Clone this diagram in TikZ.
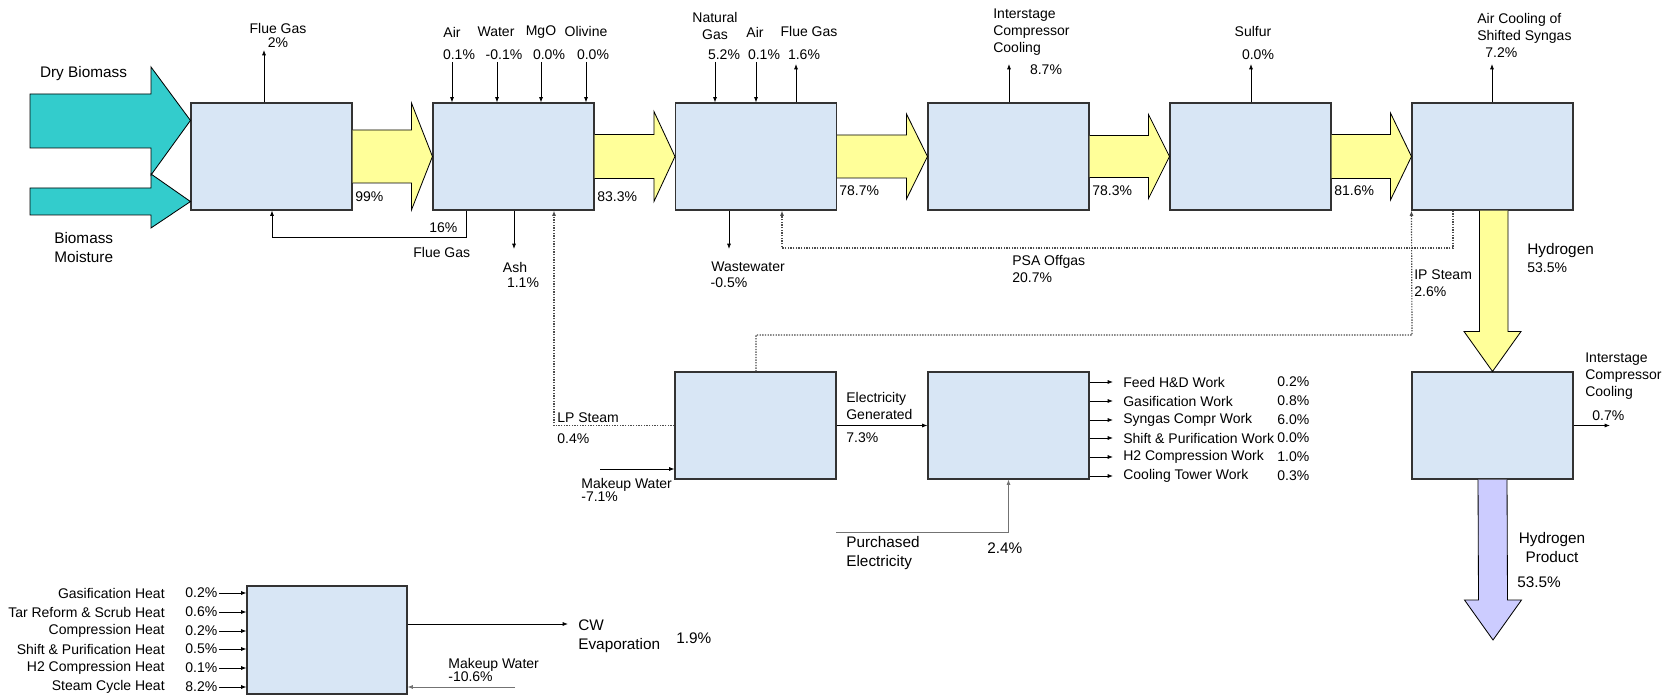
\documentclass[tikz,border=0pt]{standalone}
\usepackage{fontspec}
\setmainfont{Liberation Sans}
\usetikzlibrary{calc,arrows.meta}

\definecolor{unitblue}{RGB}{216,230,245}
\definecolor{feedteal}{RGB}{51,204,204}
\definecolor{gasyellow}{RGB}{255,255,153}
\definecolor{prodlav}{RGB}{204,204,255}

\begin{document}
\begin{tikzpicture}[x=0.6pt,y=-0.6pt,
    unit/.style={draw=black!80, line width=0.65pt, fill=unitblue, minimum width=96.6pt, minimum height=64.2pt, inner sep=0pt},
    lbl/.style={font=\fontsize{8.4}{10.2}\selectfont, inner sep=0pt},
    biglbl/.style={font=\fontsize{9.2}{11.4}\selectfont, inner sep=0pt},
    tight/.style={font=\fontsize{8.4}{8.1}\selectfont, inner sep=0pt},
    flow/.style={line width=0.45pt, -{Latex[length=3.2pt,width=2.4pt]}},
    steamline/.style={line width=0.7pt, black!70, dash pattern=on 0.8pt off 0.8pt, -{Latex[length=3.2pt,width=2.4pt]}},
    fatflow/.style={draw=black, line width=0.5pt, fill=gasyellow}]
    \useasboundingbox (0,0) rectangle (1673,696);

    % Process units
    \node[unit] (dryer) at (271.5,156.5) {};
    \node[unit] (gasifier) at (513.5,156.5) {};
    \node[unit] (reformer) at (756,156.5) {};
    \node[unit] (compr) at (1008.5,156.5) {};
    \node[unit] (sulfur) at (1250.5,156.5) {};
    \node[unit] (shift) at (1492.5,156.5) {};
    \node[unit] (steam) at (755.5,425.5) {};
    \node[unit] (power) at (1008.5,425.5) {};
    \node[unit] (h2comp) at (1492.5,425.5) {};
    \node[unit, minimum width=96pt, minimum height=64.8pt] (cooling) at (327,640) {};

    % Biomass feed arrows
    \filldraw[draw=black, line width=0.5pt, fill=feedteal] (30,188) -- (151,188) -- (151,174) --
        ($(dryer.south west)+(0,-9)$) -- (151,228) -- (151,215) -- (30,215) -- cycle;
    \filldraw[draw=black, line width=0.5pt, fill=feedteal] (30,94) -- (151,94) -- (151,67) --
        ($(dryer.north west)+(0,18)$) -- (151,175) -- (151,148) -- (30,148) -- cycle;

    % Syngas arrows
    \foreach \from/\to/\s/\h in {dryer/gasifier/26.5/53.5, gasifier/reformer/22/45,
        reformer/compr/21.5/42.5, compr/sulfur/21/42, sulfur/shift/22/43.5} {
        \filldraw[fatflow] ($(\from.east)+(0,-\s)$) -- ($(\to.west)+(-21,-\s)$) --
            ($(\to.west)+(-21,-\h)$) -- (\to.west) -- ($(\to.west)+(-21,\h)$) --
            ($(\to.west)+(-21,\s)$) -- ($(\from.east)+(0,\s)$);
    }
    \filldraw[fatflow] ($(shift.south)+(-13,0)$) -- ($(h2comp.north)+(-13,-40)$) --
        ($(h2comp.north)+(-28.5,-40)$) -- (h2comp.north) -- ($(h2comp.north)+(28.5,-40)$) --
        ($(h2comp.north)+(15.5,-40)$) -- ($(shift.south)+(15.5,0)$);
    \coordinate (h2out) at (1493,640);
    \filldraw[draw=black, line width=0.5pt, fill=prodlav] ($(h2comp.south)+(-14.5,0)$) --
        ($(h2out)+(-14.5,-40)$) -- ($(h2out)+(-28.5,-40)$) -- (h2out) --
        ($(h2out)+(28.5,-40)$) -- ($(h2out)+(14.5,-40)$) -- ($(h2comp.south)+(14.5,0)$);

    \node[biglbl] (drylbl) at (83.5,74) {Dry Biomass};
    \node[biglbl, align=left, anchor=west] (wetlbl) at (54,247.5) {Biomass\\Moisture};

    % Dryer
    \coordinate (fgtop) at (264,50);
    \draw[flow] (fgtop |- dryer.north) -- (fgtop);
    \node[tight, align=center] (fgtoplbl) at (278,35.5) {Flue Gas\\2\%};
    \node[lbl, anchor=west] (drypct) at (355,197) {99\%};
    \draw[flow] (466,0 |- gasifier.south) -- (466,237) -- (272,237) -- (272,0 |- dryer.south);
    \node[lbl, anchor=west] (fgpct) at (429,228) {16\%};
    \node[lbl, anchor=west] (fglbl) at (413,252) {Flue Gas};

    % Gasifier
    \foreach \nx/\name/\ax/\vx/\val in {452/Air/452/459/0.1, 496/Water/497/504/-0.1,
        541/MgO/541/549/0.0, 586/Olivine/586/593/0.0} {
        \node[lbl] (\name-n) at (\nx,32) {\name};
        \node[lbl] (\name-v) at (\vx,55) {\val\%};
        \draw[flow] (\ax,62) -- (\ax,62 |- gasifier.north);
    }
    \draw[flow] (514,0 |- gasifier.south) -- (514,249);
    \node[lbl] (ashlbl) at (515,267) {Ash};
    \node[lbl] (ashpct) at (523,283) {1.1\%};
    \node[lbl, anchor=west] (gaspct) at (597,197) {83.3\%};

    % Reformer
    \draw[flow] (715,62) -- (715,62 |- reformer.north);
    \draw[flow] (756,62) -- (756,62 |- reformer.north);
    \draw[flow] (796,0 |- reformer.north) -- (796,64);
    \node[lbl, align=center] (nglbl) at (715,26.5) {Natural\\Gas};
    \node[lbl] (ngpct) at (724,55) {5.2\%};
    \node[lbl] (rairlbl) at (755,32) {Air};
    \node[lbl] (rairpct) at (764,55) {0.1\%};
    \node[lbl] (rfglbl) at (809,32) {Flue Gas};
    \node[lbl] (rfgpct) at (804,55) {1.6\%};
    \draw[flow] (729,0 |- reformer.south) -- (729,249);
    \node[lbl] (wwlbl) at (748,267) {Wastewater};
    \node[lbl] (wwpct) at (729,283) {-0.5\%};
    \node[lbl, anchor=west] (refpct) at (839,191) {78.7\%};

    % Compression, sulfur removal, shift
    \draw[flow] (1009,0 |- compr.north) -- (1009,64);
    \node[lbl, align=left, anchor=west] (iclbl) at (993,32) {Interstage\\Compressor\\Cooling};
    \node[lbl] (icpct) at (1046,70) {8.7\%};
    \node[lbl, anchor=west] (comprpct) at (1092,191) {78.3\%};
    \draw[flow] (1251,0 |- sulfur.north) -- (1251,64);
    \node[lbl] (slflbl) at (1253,32) {Sulfur};
    \node[lbl] (slfpct) at (1258,55) {0.0\%};
    \node[lbl, anchor=west] (slfoutpct) at (1334,191) {81.6\%};
    \draw[flow] (1492,0 |- shift.north) -- (1492,64);
    \node[lbl, align=left, anchor=west] (aclbl) at (1477,28.5) {Air Cooling of\\Shifted Syngas};
    \node[lbl, anchor=west] (acpct) at (1485,53) {7.2\%};
    \node[biglbl, anchor=west] (h2lbl) at (1527,251) {Hydrogen};
    \node[lbl, anchor=west] (h2pct) at (1527,268) {53.5\%};

    % Offgas and steam
    \draw[steamline] (1453,0 |- shift.south) -- (1453,248) -- (782,248) -- (782,0 |- reformer.south);
    \node[lbl, align=left, anchor=west] (psalbl) at (1012,269.5) {PSA Offgas\\20.7\%};
    \draw[steamline] (756,0 |- steam.north) -- (756,335) -- (1412,335) -- (shift.south west);
    \node[lbl, align=left, anchor=west] (iplbl) at (1414,283) {IP Steam\\2.6\%};
    \draw[steamline] (steam.west) -- (554,425.5) -- (554,0 |- gasifier.south);
    \node[lbl, anchor=west] (lplbl) at (557,418) {LP Steam};
    \node[lbl, anchor=west] (lppct) at (557,439) {0.4\%};

    % Steam cycle and power
    \draw[flow] (600,469) -- (600,469 -| steam.west);
    \node[tight, align=left, anchor=west] (mwlbl) at (581,490) {Makeup Water\\-7.1\%};
    \draw[flow] (steam.east) -- (power.west);
    \node[lbl, align=left, anchor=west] (eglbl) at (846,405.5) {Electricity\\Generated};
    \node[lbl, anchor=west] (egpct) at (846,438) {7.3\%};
    \draw[flow, black!55] (836,532) -- (1008.5,532) -- (power.south);
    \node[biglbl, align=left, anchor=west] (pelbl) at (846,553) {Purchased\\Electricity};
    \node[biglbl, anchor=west] (pepct) at (987,548) {2.4\%};
    \foreach \y/\name/\val [count=\i] in {382/Feed H\&D Work/0.2, 401/Gasification Work/0.8,
        420/Syngas Compr Work/6.0, 438/Shift \& Purification Work/0.0,
        457/H2 Compression Work/1.0, 476/Cooling Tower Work/0.3} {
        \draw[flow] (power.east |- 0,\y) -- (1113,\y);
        \node[lbl, anchor=west] (work\i) at (1123,\y) {\name};
        \node[lbl, anchor=west] (workpct\i) at (1277,\y) {\val\%};
    }

    % Hydrogen compression
    \draw[flow] (h2comp.east) -- (1610,425.5);
    \node[lbl, align=left, anchor=west] (h2iclbl) at (1585,376) {Interstage\\Compressor\\Cooling};
    \node[lbl, anchor=west] (h2icpct) at (1592,416) {0.7\%};
    \node[biglbl, align=center] (prodlbl) at (1552,547.5) {Hydrogen\\Product};
    \node[biglbl, anchor=west] (prodpct) at (1517,582) {53.5\%};

    % Cooling water
    \foreach \y/\name/\val [count=\i] in {593/Gasification Heat/0.2, 612/Tar Reform \& Scrub Heat/0.6,
        631/Compression Heat/0.2, 649/Shift \& Purification Heat/0.5,
        668/H2 Compression Heat/0.1, 687/Steam Cycle Heat/8.2} {
        \node[lbl, anchor=east] (heat\i) at (165,\y) {\name};
        \node[lbl, anchor=west] (heatpct\i) at (185,\y) {\val\%};
        \draw[flow] (219,\y) -- (cooling.west |- 0,\y);
    }
    \draw[flow] (cooling.east |- 0,624) -- (568,624);
    \node[biglbl, align=left, anchor=west] (cwlbl) at (578,636.5) {CW\\Evaporation};
    \node[biglbl, anchor=west] (cwpct) at (676,638) {1.9\%};
    \draw[flow, black!55] (515,687) -- (cooling.east |- 0,687);
    \node[tight, align=left, anchor=west] (cwmwlbl) at (448,670) {Makeup Water\\-10.6\%};
\end{tikzpicture}
\end{document}
